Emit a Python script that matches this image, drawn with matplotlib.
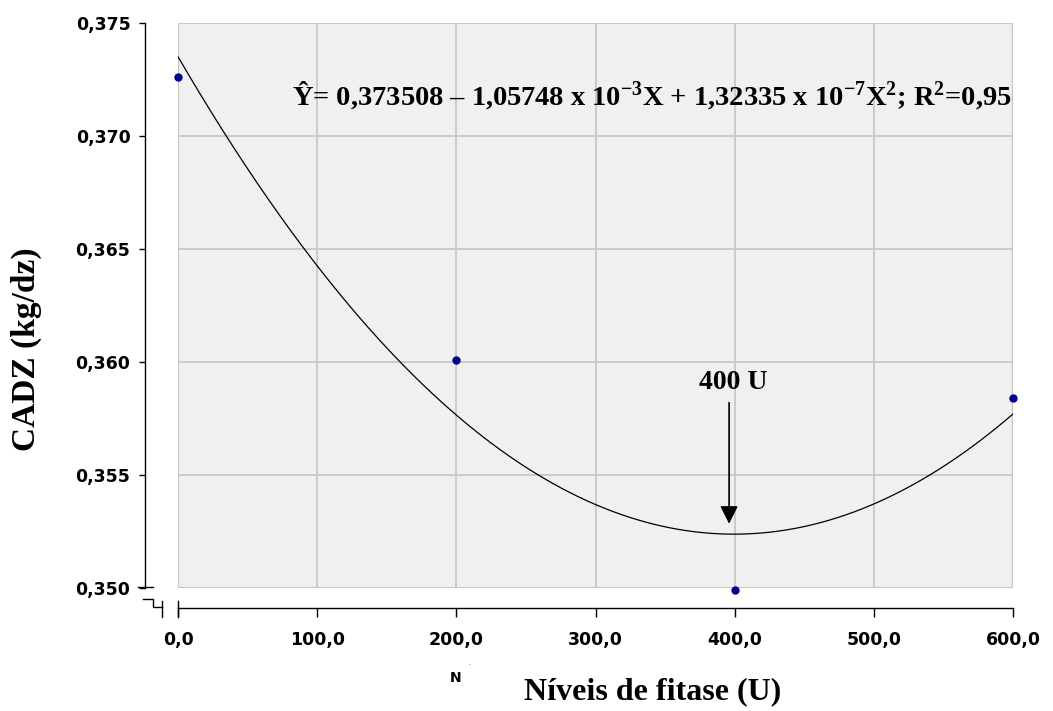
import numpy as np
import matplotlib.pyplot as plt
from matplotlib.lines import Line2D
from matplotlib.patches import Rectangle
import matplotlib.ticker as ticker

# dados
niveis = [0, 200, 400, 600]
cadz = [0.3726, 0.3601, 0.3499, 0.3584]
# Y = 0,373508 - 1,05748e-4 X + 1,32335e-7 X^2  (ordem do polyval)
coef = [1.32335e-7, -1.05748e-4, 0.373508]
x_ticks = [0, 100, 200, 300, 400, 500, 600]
y_ticks = [0.350, 0.355, 0.360, 0.365, 0.370, 0.375]
equacao = (u"\u0176= 0,373508 \u2013 1,05748 x 10$^{-3}$X + 1,32335 x 10$^{-7}$X$^{2}$; "
           u"R$^{2}$=0,95")

plt.rcParams['mathtext.fontset'] = 'custom'
plt.rcParams['mathtext.rm'] = 'Liberation Serif:bold'
plt.rcParams['mathtext.it'] = 'Liberation Serif:bold'
plt.rcParams['mathtext.bf'] = 'Liberation Serif:bold'

W, H = 1053, 711
fig = plt.figure(figsize=(W / 100, H / 100), dpi=100)


def px(x, y):
    # pixel (a partir do topo) -> coordenadas da figura
    return x / W, 1 - y / H


left, top, right, bottom = 178, 23, 1013, 588
ax = fig.add_axes([left / W, 1 - bottom / H, (right - left) / W, (bottom - top) / H])
ax.set_facecolor('#f0f0f0')
ax.set_xlim(0, 600)
ax.set_ylim(0.350, 0.375)

ax.grid(True, color='#c8c8c8', lw=1.3)
ax.set_axisbelow(True)
ax.add_patch(Rectangle((0, 0), 1, 1, transform=ax.transAxes, fill=False,
                       edgecolor='#c8c8c8', lw=1.5, zorder=0.5))
ax.plot([1, 1], [0, 1], transform=ax.transAxes, color='#c8c8c8', lw=2.5, zorder=0.6)

for s in ['top', 'right']:
    ax.spines[s].set_visible(False)
ax.spines['left'].set_position(('outward', 33 * 0.72))
ax.spines['bottom'].set_position(('outward', 20 * 0.72))
for s in ['left', 'bottom']:
    ax.spines[s].set_linewidth(1.0)
    ax.spines[s].set_color('black')

ax.set_xticks(x_ticks)
ax.set_yticks(y_ticks)
ax.xaxis.set_major_formatter(ticker.FuncFormatter(lambda v, p: f"{v:.1f}".replace('.', ',')))
ax.yaxis.set_major_formatter(ticker.FuncFormatter(lambda v, p: f"{v:.3f}".replace('.', ',')))
ax.tick_params(axis='x', direction='out', length=6.5, width=1.0, pad=10)
ax.tick_params(axis='y', direction='out', length=4.5, width=1.0, pad=6)
for lab in ax.get_xticklabels() + ax.get_yticklabels():
    lab.set_fontfamily('DejaVu Sans')
    lab.set_fontweight('bold')
    lab.set_fontsize(12.5)

# curva ajustada
xs = np.linspace(0, 600, 300)
ax.plot(xs, np.polyval(coef, xs), color='black', lw=0.9, zorder=3)
ax.plot(niveis, cadz, 'o', color='#00008b', ms=5, zorder=4, clip_on=False)

ax.text(82.0, 0.37137, equacao, ha='left', va='baseline', fontsize=20.5,
        family='Liberation Serif', weight='bold')
ax.text(398.8, 0.35909, '400 U', ha='center', va='center', fontsize=20,
        family='Liberation Serif', weight='bold')
ax.annotate('', xy=(396, 0.35284), xytext=(396, 0.3582),
            arrowprops=dict(arrowstyle='-|>,head_length=0.54,head_width=0.27',
                            color='black', lw=1.2, mutation_scale=20,
                            shrinkA=0, shrinkB=0))

# marcas de quebra dos eixos
segs = [
    [(138, 587), (153, 587)],
    [(143, 599), (153, 599), (153, 607), (162, 607)],
    [(162, 601), (162, 617)],
    [(178, 601), (178, 617)],
]
for seg in segs:
    pts = [px(x, y) for x, y in seg]
    fig.add_artist(Line2D([p[0] for p in pts], [p[1] for p in pts],
                          color='black', lw=1.0, transform=fig.transFigure))

fig.text(*px(26, 349), 'CADZ (kg/dz)', rotation=90, ha='center', va='center',
         fontsize=24, family='Liberation Serif', weight='bold')
fig.text(*px(653, 692), u'N\u00edveis de fitase (U)', ha='center', va='center',
         fontsize=23, family='Liberation Serif', weight='bold')
fig.text(*px(456, 678), 'N', ha='center', va='center', fontsize=10,
         family='DejaVu Sans', weight='bold')
fig.text(*px(470, 665), '-', ha='center', va='center', fontsize=4, color='#555555')

fig.savefig('out.png', dpi=100)
